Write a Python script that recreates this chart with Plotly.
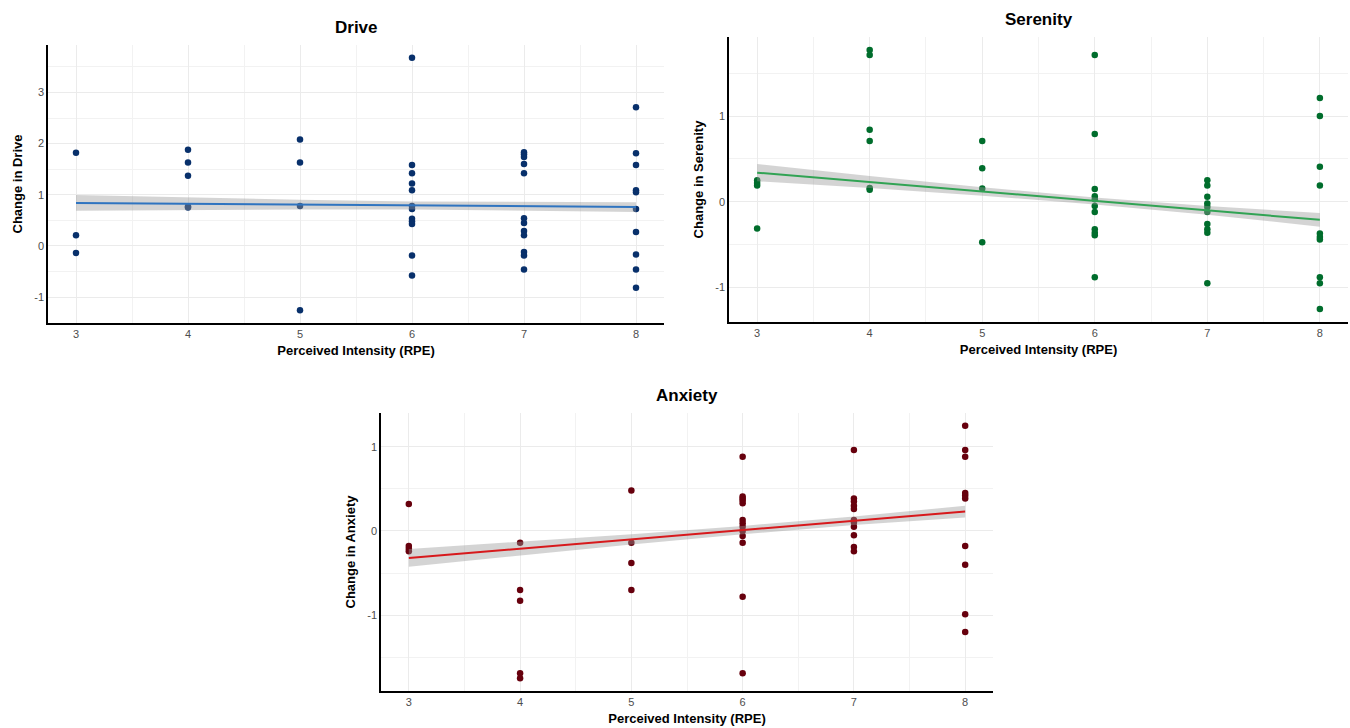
import numpy as np
import plotly.graph_objects as go

# ---------------- data ----------------
drive_rpe = [3, 3, 3,
             4, 4, 4, 4, 4,
             5, 5, 5, 5,
             6, 6, 6, 6, 6, 6, 6, 6, 6, 6, 6, 6,
             7, 7, 7, 7, 7, 7, 7, 7, 7, 7, 7, 7,
             8, 8, 8, 8, 8, 8, 8, 8, 8, 8]
drive_chg = [1.82, 0.21, -0.14,
             1.88, 1.63, 1.37, 0.77, 0.75,
             2.08, 1.63, 0.78, -1.26,
             3.68, 1.58, 1.42, 1.22, 1.09, 0.78, 0.72, 0.53, 0.48, 0.43, -0.19, -0.58,
             1.83, 1.79, 1.74, 1.60, 1.42, 0.54, 0.45, 0.29, 0.21, -0.12, -0.19, -0.46,
             2.71, 1.81, 1.58, 1.09, 1.05, 0.72, 0.27, -0.17, -0.46, -0.82]

seren_rpe = [3, 3, 3, 3,
             4, 4, 4, 4, 4, 4,
             5, 5, 5, 5,
             6, 6, 6, 6, 6, 6, 6, 6, 6, 6, 6,
             7, 7, 7, 7, 7, 7, 7, 7, 7, 7,
             8, 8, 8, 8, 8, 8, 8, 8, 8, 8]
seren_chg = [0.25, 0.22, 0.19, -0.31,
             1.77, 1.71, 0.84, 0.71, 0.16, 0.14,
             0.71, 0.39, 0.155, -0.47,
             1.71, 0.79, 0.15, 0.065, 0.03, -0.05, -0.12, -0.32, -0.36, -0.39, -0.88,
             0.25, 0.19, 0.06, -0.02, -0.06, -0.12, -0.26, -0.32, -0.36, -0.95,
             1.21, 1.00, 0.41, 0.19, -0.37, -0.41, -0.44, -0.88, -0.95, -1.25]

anx_rpe = [3, 3, 3, 3,
           4, 4, 4, 4, 4,
           5, 5, 5, 5,
           6, 6, 6, 6, 6, 6, 6, 6, 6, 6, 6, 6, 6,
           7, 7, 7, 7, 7, 7, 7, 7, 7, 7, 7,
           8, 8, 8, 8, 8, 8, 8, 8, 8, 8]
anx_chg = [0.32, -0.18, -0.21, -0.24,
           -0.14, -0.70, -0.83, -1.69, -1.75,
           0.48, -0.14, -0.38, -0.70,
           0.88, 0.41, 0.385, 0.36, 0.33, 0.13, 0.09, 0.05, 0.0, -0.06, -0.14, -0.78, -1.69,
           0.96, 0.385, 0.35, 0.30, 0.26, 0.13, 0.10, 0.05, -0.05, -0.19, -0.24,
           1.25, 0.96, 0.88, 0.45, 0.42, 0.385, -0.18, -0.40, -0.99, -1.20]

# fitted linear trend and 95% CI half-widths
fit_rpe = [3, 4, 5, 6, 7, 8]
drive_fit = [0.84, 0.824, 0.808, 0.792, 0.776, 0.76]
drive_ci = [0.155, 0.12, 0.095, 0.078, 0.08, 0.095]
seren_fit = [0.34, 0.23, 0.12, 0.01, -0.10, -0.21]
seren_ci = [0.10, 0.07, 0.05, 0.04, 0.05, 0.08]
anx_fit = [-0.32, -0.21, -0.10, 0.01, 0.12, 0.23]
anx_ci = [0.105, 0.08, 0.06, 0.05, 0.05, 0.07]

x_ticks = [3, 4, 5, 6, 7, 8]
x_ticktext = ["3", "4", "5", "6", "7", "8"]
drive_yticks = [-1, 0, 1, 2, 3]
drive_yticktext = ["-1", "0", "1", "2", "3"]
seren_yticks = [-1, 0, 1]
seren_yticktext = ["-1", "0", "1"]
anx_yticks = [-1, 0, 1]
anx_yticktext = ["-1", "0", "1"]

panels = [
    dict(name="Drive", x=drive_rpe, y=drive_chg, fit=drive_fit, ci=drive_ci, pt="#08306b", ln="#2f74c0",
         yt=drive_yticks, ytt=drive_yticktext, xd=[48/1350, 664/1350], yd=[1-323/728, 1-45/728]),
    dict(name="Serenity", x=seren_rpe, y=seren_chg, fit=seren_fit, ci=seren_ci, pt="#006d2c", ln="#31a354",
         yt=seren_yticks, ytt=seren_yticktext, xd=[729/1350, 1348/1350], yd=[1-322/728, 1-37/728]),
    dict(name="Anxiety", x=anx_rpe, y=anx_chg, fit=anx_fit, ci=anx_ci, pt="#67000d", ln="#d7191c",
         yt=anx_yticks, ytt=anx_yticktext, xd=[381/1350, 993/1350], yd=[1-691/728, 1-413/728]),
]

fig = go.Figure()
layout = {}
annotations = []
grid_c = "#ebebeb"
font_fam = "Liberation Sans, Arial, sans-serif"

for i, p in enumerate(panels, start=1):
    xa = "x" if i == 1 else f"x{i}"
    ya = "y" if i == 1 else f"y{i}"
    fig.add_trace(go.Scatter(x=p["x"], y=p["y"], mode="markers", xaxis=xa, yaxis=ya,
                             marker=dict(color=p["pt"], size=6.5), showlegend=False))
    fx = np.asarray(fit_rpe, float)
    fy = np.asarray(p["fit"], float)
    ci = np.asarray(p["ci"], float)
    hi = fy + ci
    lo = fy - ci
    fig.add_trace(go.Scatter(x=np.concatenate([fx, fx[::-1]]), y=np.concatenate([hi, lo[::-1]]),
                             fill="toself", fillcolor="rgba(153,153,153,0.42)",
                             line=dict(width=0),
                             mode="lines", xaxis=xa, yaxis=ya, showlegend=False, hoverinfo="skip"))
    fig.add_trace(go.Scatter(x=fx, y=fy, mode="lines", line=dict(color=p["ln"], width=2),
                             xaxis=xa, yaxis=ya, showlegend=False))
    ymin, ymax = min(p["y"]), max(p["y"])
    pad = 0.05 * (ymax - ymin)
    kx = "xaxis" if i == 1 else f"xaxis{i}"
    ky = "yaxis" if i == 1 else f"yaxis{i}"
    layout[kx] = dict(domain=p["xd"], anchor=ya, range=[2.75, 8.25],
                      tickvals=x_ticks, ticktext=x_ticktext, showgrid=True, gridcolor=grid_c, gridwidth=1,
                      minor=dict(dtick=0.5, tick0=0, showgrid=True, gridcolor="#f2f2f2", gridwidth=1),
                      zeroline=False, showline=True, linecolor="black", linewidth=1.6,
                      ticks="", tickfont=dict(size=11, color="#4d4d4d", family=font_fam),
                      title=dict(text="<b>Perceived Intensity (RPE)</b>", standoff=7,
                                 font=dict(size=13, color="black", family=font_fam)))
    layout[ky] = dict(domain=p["yd"], anchor=xa, range=[ymin - pad, ymax + pad],
                      tickvals=p["yt"], ticktext=p["ytt"], showgrid=True, gridcolor=grid_c, gridwidth=1,
                      minor=dict(dtick=0.5, tick0=0, showgrid=True, gridcolor="#f2f2f2", gridwidth=1),
                      zeroline=False, showline=True, linecolor="black", linewidth=1.6,
                      ticks="", tickfont=dict(size=11, color="#4d4d4d", family=font_fam),
                      title=dict(text=f"<b>Change in {p['name']}</b>", standoff=9,
                                 font=dict(size=13, color="black", family=font_fam)))
    annotations.append(dict(text=f"<b>{p['name']}</b>", xref="paper", yref="paper",
                            x=(p["xd"][0] + p["xd"][1]) / 2, y=p["yd"][1] + 0.008,
                            xanchor="center", yanchor="bottom", showarrow=False,
                            font=dict(size=17, color="black", family=font_fam)))

fig.update_layout(width=1350, height=728, margin=dict(l=0, r=0, t=0, b=0),
                  paper_bgcolor="white", plot_bgcolor="white", annotations=annotations, **layout)

fig.write_html("out.html")
